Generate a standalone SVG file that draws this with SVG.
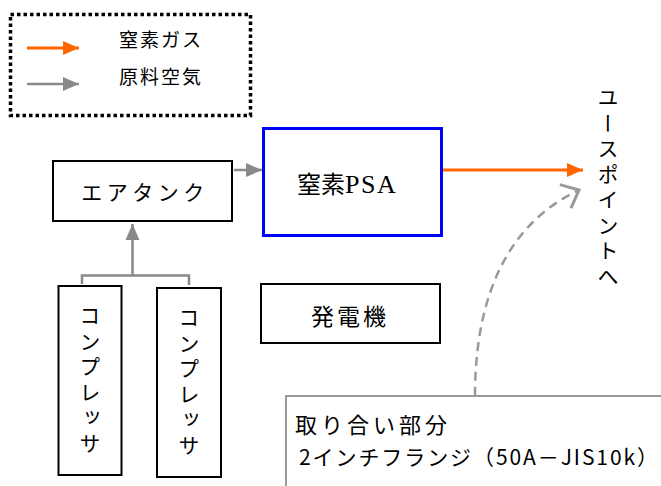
<svg xmlns="http://www.w3.org/2000/svg" width="661" height="486" viewBox="0 0 661 486">
<style>
.jp{font-family:"Noto Sans CJK JP","Noto Sans",sans-serif;fill:#000}
.box{fill:#fff;stroke:#000;stroke-width:2}
.gray{stroke:#898989;stroke-width:2.5;fill:none}
.orange{stroke:#FF6600;stroke-width:3;fill:none}
.vt{writing-mode:vertical-rl;font-family:"Noto Sans CJK JP",sans-serif;font-size:21px;letter-spacing:4.5px}
</style>
<defs>
<marker id="ao" markerUnits="userSpaceOnUse" viewBox="0 0 16 14" refX="16" refY="7" markerWidth="16" markerHeight="14" orient="auto"><path d="M0,0 L16,7 L0,14 Z" fill="#FF6600"/></marker>
<marker id="ag" markerUnits="userSpaceOnUse" viewBox="0 0 16 14" refX="16" refY="7" markerWidth="16" markerHeight="14" orient="auto"><path d="M0,0 L16,7 L0,14 Z" fill="#898989"/></marker>
<marker id="ach" markerUnits="userSpaceOnUse" viewBox="0 0 20 30" refX="17" refY="15" markerWidth="20" markerHeight="30" orient="auto"><path d="M2,2 L17,15 L2,28" fill="none" stroke="#999" stroke-width="3"/></marker>
</defs>

<g id="legend">
<rect x="10.5" y="14.5" width="240" height="101" fill="none" stroke="#000" stroke-width="3.5" stroke-dasharray="3.5,3"/>
<line x1="27" y1="48" x2="79" y2="48" class="orange" marker-end="url(#ao)"/>
<line x1="27" y1="84" x2="79" y2="84" class="gray" marker-end="url(#ag)"/>
<text x="119" y="47" class="jp" font-size="19" letter-spacing="2">窒素ガス</text>
<text x="119" y="84" class="jp" font-size="19" letter-spacing="2">原料空気</text>
</g>

<g id="connectors">
<line x1="234" y1="170" x2="262" y2="170" class="gray" marker-end="url(#ag)"/>
<line x1="132.5" y1="275" x2="132.5" y2="224" class="gray" marker-end="url(#ag)"/>
<path d="M82,284 V275.5 H189 V285" class="gray" stroke-width="2" stroke="#999"/>
<line x1="443" y1="170" x2="583" y2="170" class="orange" marker-end="url(#ao)"/>
<path d="M475,396 C475,300 505,225 579,190" fill="none" stroke="#999" stroke-width="2.5" stroke-dasharray="9,6" marker-end="url(#ach)"/>
</g>

<g id="air-tank">
<rect x="53" y="161" width="179" height="60" class="box"/>
<text x="145" y="200" class="jp" font-size="21" letter-spacing="4.5" text-anchor="middle">エアタンク</text>
</g>

<g id="psa">
<rect x="263.5" y="128.5" width="178" height="107" fill="#fff" stroke="#0000FF" stroke-width="3"/>
<text x="297" y="193" class="jp" font-size="24"><tspan>窒素</tspan><tspan font-family="Liberation Serif" font-size="26" letter-spacing="1.5">PSA</tspan></text>
</g>

<g id="compressor1">
<rect x="58.5" y="286" width="63" height="189" class="box"/>
<text x="90" y="305" class="vt">コンプレッサ</text>
</g>

<g id="compressor2">
<rect x="157" y="288" width="64" height="189" class="box"/>
<text x="189" y="307" class="vt">コンプレッサ</text>
</g>

<g id="generator">
<rect x="261" y="284" width="179" height="59" class="box"/>
<text x="350" y="325" class="jp" font-size="23" letter-spacing="3" text-anchor="middle">発電機</text>
</g>

<g id="use-point">
<text x="608" y="87" class="vt">ユースポイントへ</text>
</g>

<g id="interface">
<rect x="286" y="396" width="420" height="120" fill="#fff" stroke="#999" stroke-width="2"/>
<text x="295" y="433" class="jp" font-size="22" letter-spacing="4">取り合い部分</text>
<text x="299" y="465" class="jp" font-size="21" textLength="359" lengthAdjust="spacing">2インチフランジ（50A－JIS10k）</text>
</g>
</svg>
